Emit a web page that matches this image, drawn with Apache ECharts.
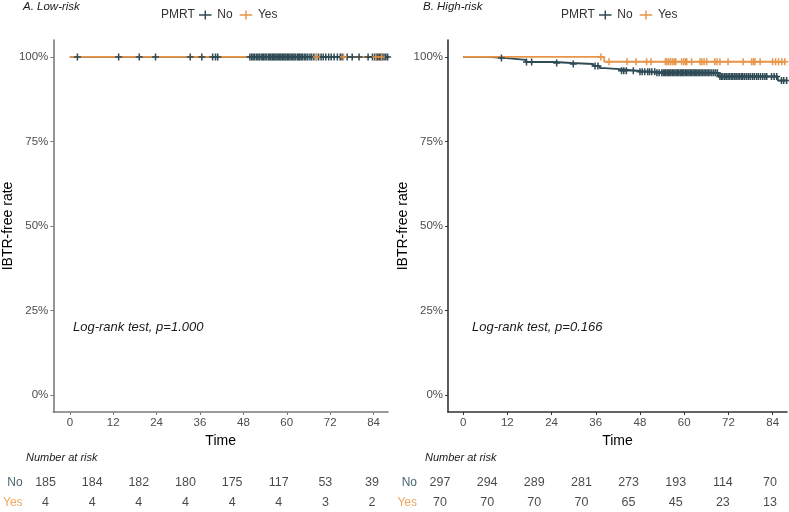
<!DOCTYPE html>
<html><head><meta charset="utf-8">
<script src="https://cdn.jsdelivr.net/npm/echarts@6/dist/echarts.min.js"></script>
<style>html,body{margin:0;padding:0;background:#fff}#c{width:789px;height:512px}</style>
</head><body><div id="c"></div><script>
// ---------- data ----------
const timeTicks = [0, 12, 24, 36, 48, 60, 72, 84];
const yTicks = [0, 25, 50, 75, 100];
const groups = ['No', 'Yes'];
const panelTitles = ['A. Low-risk', 'B. High-risk'];
const pTexts = ['Log-rank test, p=1.000', 'Log-rank test, p=0.166'];

// Kaplan-Meier steps [month, survival %]
const lowNoSteps = [[0, 100], [88, 100]];
const lowYesSteps = [[0, 100], [86.4, 100]];
const highNoSteps = [[0, 100], [6.7, 99.66], [11.9, 99.1], [17.0, 98.5], [24.9, 98.2], [29.4, 97.9],
  [35.3, 97.3], [37.1, 96.7], [38.5, 96.4], [42.5, 95.9], [48.0, 95.6], [52.5, 95.3],
  [69.2, 94.2], [85.4, 93.0], [87.8, 93.0]];
const highYesSteps = [[0, 100], [38.3, 98.57], [87.6, 98.57]];

// censoring times (months)
const lowNoCensor = [2.1, 13.5, 19.2, 23.7, 33.3, 36.5, 39.5, 40.3, 40.9,
  49.8, 50.3, 50.7, 51.1, 51.6, 52.0, 52.4, 52.9, 53.3, 53.6, 54.0, 54.4, 54.9, 55.3, 55.6, 56.0,
  56.3, 56.7, 57.0, 57.4, 57.8, 58.1, 58.4, 58.8, 59.1, 59.5, 59.8, 60.2, 60.5, 60.9, 61.3, 61.7,
  62.0, 62.4, 62.9, 63.3, 63.6, 64.0, 64.4, 64.9, 65.3, 65.8, 66.4, 66.9, 67.5, 68.2, 68.8, 69.5,
  70.1, 70.8, 71.6, 72.3, 73.1, 74.0, 74.8, 75.3, 76.7, 78.1, 80.0, 82.5, 83.7, 84.3, 84.8, 85.2,
  85.6, 86.0, 86.4, 86.9, 87.4, 87.9];
const lowYesCensor = [68.2, 75.7, 84.6, 86.2];
const highNoCensor = [10.4, 17.2, 18.6, 25.4, 29.9, 35.8, 36.6, 43.0, 43.6, 44.3, 46.2, 48.0, 48.6,
  49.3, 50.1, 50.6, 51.2, 52.0, 52.6, 53.2, 53.9, 54.3, 54.7, 55.0, 55.4, 55.7, 56.1, 56.4, 56.8,
  57.1, 57.5, 57.8, 58.2, 58.5, 58.9, 59.2, 59.6, 59.9, 60.3, 60.6, 61.0, 61.3, 61.7, 62.0, 62.4,
  62.7, 63.1, 63.4, 63.8, 64.2, 64.6, 65.0, 65.4, 65.8, 66.2, 66.6, 67.0, 67.5, 68.0, 68.5, 69.0,
  69.7, 70.1, 70.5, 71.0, 71.4, 71.9, 72.3, 72.8, 73.2, 73.7, 74.1, 74.6, 75.0, 75.5, 75.9, 76.4,
  76.9, 77.4, 77.9, 78.5, 79.0, 79.6, 80.1, 80.7, 81.3, 81.9, 82.4, 83.7, 84.4, 85.1, 86.4, 87.0, 87.8];
const highYesCensor = [37.4, 39.6, 44.5, 46.9, 49.8, 51.0, 54.9, 55.3, 55.8, 56.3, 56.8, 57.3, 57.7,
  59.3, 59.9, 60.4, 60.7, 62.0, 64.3, 64.8, 65.4, 66.1, 68.3, 68.9, 69.7, 71.9, 76.0, 78.3, 78.8,
  79.2, 80.6, 84.0, 84.8, 85.6, 86.5, 87.3];

// numbers at risk at timeTicks
const lowRiskNo = [185, 184, 182, 180, 175, 117, 53, 39];
const lowRiskYes = [4, 4, 4, 4, 4, 4, 3, 2];
const highRiskNo = [297, 294, 289, 281, 273, 193, 114, 70];
const highRiskYes = [70, 70, 70, 70, 65, 45, 23, 13];

// ---------- styling ----------
const FONT = 'Liberation Sans, Arial, sans-serif';
const colNo = '#2F4B55';
const colYes = '#E8954A';
const colNoLabel = '#4A6670';
const colYesLabel = '#F0A560';
const plusPath = 'path://M0,3.9 H3.9 V0 H6.1 V3.9 H10 V6.1 H6.1 V10 H3.9 V6.1 H0 Z';
const legendIcon = 'path://M0,4.2 H6.2 V0 H7.8 V4.2 H14 V5.8 H7.8 V10 H6.2 V5.8 H0 Z';

function surv(steps, t) {
  let s = steps[0][1];
  for (const p of steps) { if (p[0] <= t) s = p[1]; }
  return s;
}

const panels = [
  { steps: [lowNoSteps, lowYesSteps], cens: [lowNoCensor, lowYesCensor], risk: [lowRiskNo, lowRiskYes],
    grid: { left: 50, top: 40, width: 338, height: 372 }, xmin: -4.57, xmax: 88,
    table: { left: 43, top: 473, width: 329, height: 44 }, axisCol: '#7a7a7a', nameGap: 34 },
  { steps: [highNoSteps, highYesSteps], cens: [highNoCensor, highYesCensor], risk: [highRiskNo, highRiskYes],
    grid: { left: 448, top: 40, width: 339, height: 372 }, xmin: -4.1, xmax: 87.9,
    table: { left: 440, top: 473, width: 330, height: 44 }, axisCol: '#333333', nameGap: 33 }
];

const grid = [], xAxis = [], yAxis = [], series = [];
panels.forEach((p, i) => {
  grid.push(p.grid);
  xAxis.push({
    type: 'value', gridIndex: i, min: p.xmin, max: p.xmax,
    name: 'Time', nameLocation: 'middle', nameGap: 16,
    nameTextStyle: { fontSize: 14, color: '#000', fontFamily: FONT },
    axisLine: { show: true, onZero: false, lineStyle: { color: p.axisCol, width: 1.6 } },
    axisTick: { show: true, length: 3, lineStyle: { color: p.axisCol }, customValues: timeTicks },
    axisLabel: { fontSize: 11.5, color: '#4d4d4d', margin: 5, fontFamily: FONT, customValues: timeTicks },
    splitLine: { show: false }
  });
  yAxis.push({
    type: 'value', gridIndex: i, min: -5, max: 105,
    name: 'IBTR-free rate', nameLocation: 'middle', nameGap: p.nameGap,
    nameTextStyle: { fontSize: 14, color: '#000', fontFamily: FONT },
    axisLine: { show: true, onZero: false, lineStyle: { color: p.axisCol, width: 1.6 } },
    axisTick: { show: true, length: 3, lineStyle: { color: p.axisCol }, customValues: yTicks },
    axisLabel: { fontSize: 11.5, color: '#4d4d4d', margin: 5, fontFamily: FONT, customValues: yTicks,
      formatter: v => v + '%' },
    splitLine: { show: false }
  });
});
panels.forEach((p, i) => {
  grid.push(p.table);
  xAxis.push({ type: 'value', gridIndex: 2 + i, min: 0, max: 84, show: false });
  yAxis.push({
    type: 'category', gridIndex: 2 + i, data: groups, inverse: true,
    axisLine: { show: false }, axisTick: { show: false }, splitLine: { show: false },
    axisLabel: {
      margin: 23, fontSize: 12, fontFamily: FONT,
      formatter: v => '{' + v + '|' + v + '}',
      rich: { No: { color: colNoLabel, fontSize: 12, fontFamily: FONT },
              Yes: { color: colYesLabel, fontSize: 12, fontFamily: FONT } }
    }
  });
});

const cols = [colNo, colYes];
panels.forEach((p, i) => {
  groups.forEach((g, k) => {
    series.push({
      name: g, type: 'line', step: 'end', xAxisIndex: i, yAxisIndex: i,
      data: p.steps[k], showSymbol: false, symbol: 'none', z: 2 + k,
      color: cols[k], lineStyle: { color: cols[k], width: 1.8 }, animation: false
    });
  });
  groups.forEach((g, k) => {
    series.push({
      name: g, type: 'scatter', xAxisIndex: i, yAxisIndex: i, z: 4 + k,
      symbol: plusPath, symbolSize: 7, color: cols[k],
      itemStyle: { color: cols[k], opacity: 1 },
      data: p.cens[k].map(t => [t, surv(p.steps[k], t)]), animation: false
    });
  });
  groups.forEach((g, k) => {
    series.push({
      type: 'scatter', xAxisIndex: 2 + i, yAxisIndex: 2 + i, symbolSize: 0, silent: true,
      data: timeTicks.map((t, j) => [t, g, p.risk[k][j]]),
      label: { show: true, position: 'inside', formatter: q => q.value[2],
        fontSize: 12.5, color: '#1a1a1a', fontFamily: FONT },
      animation: false
    });
  });
});

const legendCommon = {
  data: groups, icon: legendIcon, itemWidth: 14, itemHeight: 9, itemGap: 7, top: 9, padding: 0,
  textStyle: { fontSize: 12, color: '#333', fontFamily: FONT }, selectedMode: false
};

const graphic = [];
panels.forEach((p, i) => {
  const ox = i * 400;
  graphic.push({ type: 'text', left: 23 + ox, top: 1,
    style: { text: panelTitles[i], font: 'italic 11.5px ' + FONT, fill: '#1a1a1a' } });
  graphic.push({ type: 'text', left: 161 + ox, top: 9,
    style: { text: 'PMRT', font: '12px ' + FONT, fill: '#333' } });
  graphic.push({ type: 'text', left: 73 + ox - (i ? 1 : 0), top: 321,
    style: { text: pTexts[i], font: 'italic 13px ' + FONT, fill: '#1a1a1a' } });
  graphic.push({ type: 'text', left: 26 + ox - (i ? 1 : 0), top: 452,
    style: { text: 'Number at risk', font: 'italic 11px ' + FONT, fill: '#1a1a1a' } });
});

const chart = echarts.init(document.getElementById('c'), null, { renderer: 'canvas' });
chart.setOption({
  backgroundColor: '#fff',
  animation: false,
  grid, xAxis, yAxis, series,
  legend: [Object.assign({ left: 199 }, legendCommon), Object.assign({ left: 599 }, legendCommon)],
  graphic
});
</script></body></html>
